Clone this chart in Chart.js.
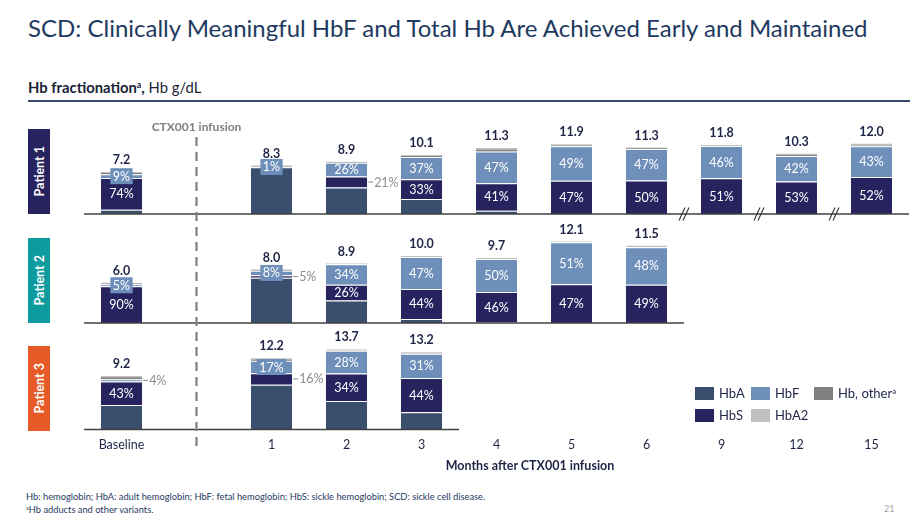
<!DOCTYPE html>
<html>
<head>
<meta charset="utf-8">
<script src="https://cdn.jsdelivr.net/npm/chart.js@4.4.1/dist/chart.umd.min.js"></script>
<style>
  body { margin: 0; background: #fff; font-family: Lato, 'Open Sans', sans-serif; }
  #page { position: relative; width: 921px; height: 520px; overflow: hidden; }
  .abs { position: absolute; white-space: nowrap; }
  #title { left: 28px; top: 12.7px; font-size: 24px; line-height: 30px; color: #1f3a5f; }
  #subtitle { left: 28px; top: 79.4px; font-size: 14.8px; line-height: 16px; color: #1a1f36; }
  sup, .sup { font-size: 0.6em; vertical-align: 0.55em; line-height: 0; }
  #rule { left: 28px; top: 100px; width: 882px; height: 1.5px; background: #3a4a6a; }
  .patient { left: 28px; width: 22px; height: 85px; display: flex; align-items: center; justify-content: center; }
  .patient span { writing-mode: vertical-rl; transform: rotate(180deg); color: #fff; font-weight: bold; font-size: 12.5px; }
  .box { position: absolute; left: 0; width: 921px; }
  #xtitle { left: 530px; top: 458px; transform: translateX(-50%); font-weight: bold; font-size: 12.5px; line-height: 16px; color: #1f2547; }
  #legend { left: 695px; top: 387px; display: grid; grid-template-columns: 56px 63px auto; row-gap: 9px; }
  .item { display: flex; align-items: center; font-size: 13px; line-height: 13px; color: #1f2547; }
  .item i { display: inline-block; width: 19px; height: 13px; margin-right: 5px; }
  .note { left: 26px; font-size: 9.3px; line-height: 11px; color: #1f3a5f; }
  #pageno { left: 884px; top: 503px; font-size: 9px; color: #a6a6a6; }
</style>
</head>
<body>
<div id="page">
  <div class="abs" id="title">SCD: Clinically Meaningful HbF and Total Hb Are Achieved Early and Maintained</div>
  <div class="abs" id="subtitle"><b>Hb fractionation<sup>a</sup>,</b> Hb g/dL</div>
  <div class="abs" id="rule"></div>

  <div class="abs patient" style="top:129px;background:#27235f"><span>Patient 1</span></div>
  <div class="abs patient" style="top:238px;background:#0e9ba0"><span>Patient 2</span></div>
  <div class="abs patient" style="top:346px;background:#e55a26"><span>Patient 3</span></div>

  <div class="box" style="top:110px;height:112px"><canvas id="p1"></canvas></div>
  <div class="box" style="top:222px;height:104px"><canvas id="p2"></canvas></div>
  <div class="box" style="top:326px;height:138px"><canvas id="p3"></canvas></div>

  <div class="abs" id="legend"></div>
  <div class="abs" id="xtitle">Months after CTX001 infusion</div>

  <div class="abs note" style="top:491px">Hb: hemoglobin; HbA: adult hemoglobin; HbF: fetal hemoglobin; HbS: sickle hemoglobin; SCD: sickle cell disease.</div>
  <div class="abs note" style="top:504px"><span class="sup">a</span>Hb adducts and other variants.</div>
  <div class="abs" id="pageno">21</div>
</div>

<script>
'use strict';

// x categories, the empty slot is where the infusion line sits
const categories = ['Baseline', '', '1', '2', '3', '4', '5', '6', '9', '12', '15'];
const seriesNames = ['HbA', 'HbS', 'HbF', 'Hb, other', 'HbA2'];

// patient 1: total Hb (g/dL) and % of total per fraction
const p1Total = [7.2, null, 8.3, 8.9, 10.1, 11.3, 11.9, 11.3, 11.8, 10.3, 12.0];
const p1HbA   = [10, null, 95, 50, 25, 5, 0, 0, 0, 0, 0];
const p1HbS   = [74, null, 0, 21, 33, 41, 47, 50, 51, 53, 52];
const p1HbF   = [9, null, 1, 26, 37, 47, 49, 47, 46, 42, 43];
const p1Other = [3, null, 1, 1, 2, 3, 1, 1, 0, 2, 1];
const p1HbA2  = [4, null, 3, 2, 3, 4, 3, 2, 3, 3, 4];

// patient 2
const p2Total = [6.0, null, 8.0, 8.9, 10.0, 9.7, 12.1, 11.5, null, null, null];
const p2HbA   = [0, null, 83, 37, 6, 1, 0, 0, null, null, null];
const p2HbS   = [90, null, 5, 26, 44, 46, 47, 49, null, null, null];
const p2HbF   = [5, null, 8, 34, 47, 50, 51, 48, null, null, null];
const p2Other = [2, null, 1, 0, 0, 0, 0, 0, null, null, null];
const p2HbA2  = [3, null, 3, 3, 3, 3, 2, 3, null, null, null];

// patient 3
const p3Total = [9.2, null, 12.2, 13.7, 13.2, null, null, null, null, null, null];
const p3HbA   = [45, null, 62, 35, 22, null, null, null, null, null, null];
const p3HbS   = [43, null, 16, 34, 44, null, null, null, null, null, null];
const p3HbF   = [4, null, 17, 28, 31, null, null, null, null, null, null];
const p3Other = [4, null, 2, 0, 0, null, null, null, null, null, null];
const p3HbA2  = [4, null, 3, 3, 3, null, null, null, null, null, null];

const colors = ['#3a4f6e', '#27235f', '#6d8fba', '#808080', '#c0c0c0'];
const labelled = ['HbS', 'HbF'];
// small segments: label in a filled box, or outside with a leader line
const boxedLabels = ['p1:HbF:0', 'p1:HbF:2', 'p2:HbF:0', 'p2:HbF:2', 'p3:HbF:2'];
const outsideLabels = ['p1:HbS:3', 'p2:HbS:2', 'p3:HbS:2', 'p3:HbF:0'];
const breaks = [7, 8, 9]; // axis break after these category indexes (patient 1)
const dashTop = 137, dashBottom = 452;

const textDark = '#1f2547';

const decor = {
  id: 'decor',
  afterDatasetsDraw(chart, args, o) {
    const ctx = chart.ctx;
    const x = chart.scales.x, y = chart.scales.y;
    const slot = x.width / categories.length;
    const axisY = y.getPixelForValue(0);
    ctx.save();

    // base line up to last measured month
    let last = 0;
    o.total.forEach((v, i) => { if (v !== null) last = i; });
    ctx.strokeStyle = '#404040';
    ctx.lineWidth = 1.5;
    ctx.beginPath();
    ctx.moveTo(x.left, axisY);
    ctx.lineTo(x.getPixelForValue(last) + slot / 2, axisY);
    ctx.stroke();

    if (o.key === 'p1') {
      ctx.lineWidth = 1.1;
      ctx.strokeStyle = '#333';
      breaks.forEach(i => {
        const bx = (x.getPixelForValue(i) + x.getPixelForValue(i + 1)) / 2;
        [-2, 2].forEach(d => {
          ctx.beginPath();
          ctx.moveTo(bx + d - 3, axisY + 6.5);
          ctx.lineTo(bx + d + 3, axisY - 6.5);
          ctx.stroke();
        });
      });
      ctx.font = 'bold 12px Lato';
      ctx.fillStyle = '#7f7f7f';
      ctx.textAlign = 'center';
      ctx.textBaseline = 'middle';
      ctx.fillText('CTX001 infusion', x.getPixelForValue(1), dashTop - 10 - o.top);
    }

    // infusion line, dash phase kept across the three canvases
    const dx = x.getPixelForValue(1);
    const start = Math.max(dashTop, o.top);
    const end = Math.min(dashBottom, o.top + chart.height);
    if (end > start) {
      ctx.strokeStyle = '#808080';
      ctx.lineWidth = 2.2;
      ctx.setLineDash([9, 6]);
      ctx.lineDashOffset = start - dashTop;
      ctx.beginPath();
      ctx.moveTo(dx, start - o.top);
      ctx.lineTo(dx, end - o.top);
      ctx.stroke();
      ctx.setLineDash([]);
    }

    // % labels
    ctx.textBaseline = 'middle';
    chart.data.datasets.forEach((ds, di) => {
      if (!labelled.includes(ds.label)) return;
      chart.getDatasetMeta(di).data.forEach((bar, i) => {
        const p = ds.pct[i];
        if (!p) return;
        const tag = o.key + ':' + ds.label + ':' + i;
        const cy = (bar.y + bar.base) / 2;
        const txt = p + '%';
        ctx.font = '12.5px Lato';
        if (outsideLabels.includes(tag)) {
          const ex = bar.x + bar.width / 2;
          ctx.strokeStyle = '#8c8c8c';
          ctx.lineWidth = 1;
          ctx.beginPath();
          ctx.moveTo(ex + 1, cy);
          ctx.lineTo(ex + 6, cy);
          ctx.stroke();
          ctx.fillStyle = '#8c8c8c';
          ctx.textAlign = 'left';
          ctx.fillText(txt, ex + 7, cy + 0.5);
        } else {
          if (boxedLabels.includes(tag)) {
            const w = ctx.measureText(txt).width + 5;
            ctx.fillStyle = ds.backgroundColor;
            ctx.fillRect(bar.x - w / 2, cy - 8, w, 16);
          }
          ctx.fillStyle = '#fff';
          ctx.textAlign = 'center';
          ctx.fillText(txt, bar.x, cy + 0.5);
        }
      });
    });

    // totals
    ctx.font = 'bold 12.5px Lato';
    ctx.fillStyle = textDark;
    ctx.textAlign = 'center';
    o.total.forEach((v, i) => {
      if (v === null) return;
      ctx.fillText(v.toFixed(1), x.getPixelForValue(i), y.getPixelForValue(v) - 11);
    });
    ctx.restore();
  }
};

function makeChart(key, top, total, fractions, yMax, padTop, padBottom, showTicks) {
  const datasets = fractions.map((pct, k) => ({
    label: seriesNames[k],
    pct: pct,
    data: total.map((t, i) => t === null ? null : t * pct[i] / 100),
    backgroundColor: colors[k],
    borderColor: '#fff',
    borderWidth: k === 3 ? 0 : { top: 1, left: 0, right: 0, bottom: 0 },
    borderSkipped: false
  }));
  return new Chart(document.getElementById(key), {
    type: 'bar',
    data: { labels: categories, datasets: datasets },
    plugins: [decor],
    options: {
      responsive: true,
      maintainAspectRatio: false,
      animation: false,
      events: [],
      layout: { padding: { left: 84, right: 12, top: padTop, bottom: padBottom } },
      datasets: { bar: { categoryPercentage: 1, barPercentage: 0.55 } },
      plugins: {
        legend: { display: false },
        tooltip: { enabled: false },
        decor: { key: key, top: top, total: total }
      },
      scales: {
        x: {
          stacked: true,
          display: showTicks,
          grid: { display: false, drawTicks: false },
          border: { display: false },
          ticks: { padding: 8, color: textDark, font: { family: 'Lato', size: 12.5 }, maxRotation: 0, autoSkip: false }
        },
        y: { stacked: true, display: false, min: 0, max: yMax }
      }
    }
  });
}

makeChart('p1', 110, p1Total, [p1HbA, p1HbS, p1HbF, p1Other, p1HbA2], 16, 9, 8, false);
makeChart('p2', 222, p2Total, [p2HbA, p2HbS, p2HbF, p2Other, p2HbA2], 13, 12.6, 3, false);
makeChart('p3', 326, p3Total, [p3HbA, p3HbS, p3HbF, p3Other, p3HbA2], 16, 8.8, 3.6, true);

// legend
const legendOrder = [0, 2, 3, 1, 4];
const legend = document.getElementById('legend');
legendOrder.forEach(k => {
  const item = document.createElement('div');
  item.className = 'item';
  const sw = document.createElement('i');
  sw.style.background = colors[k];
  item.appendChild(sw);
  const name = document.createElement('span');
  name.textContent = seriesNames[k];
  if (seriesNames[k] === 'Hb, other') {
    const s = document.createElement('sup');
    s.textContent = 'a';
    name.appendChild(s);
  }
  item.appendChild(name);
  legend.appendChild(item);
});
</script>
</body>
</html>
